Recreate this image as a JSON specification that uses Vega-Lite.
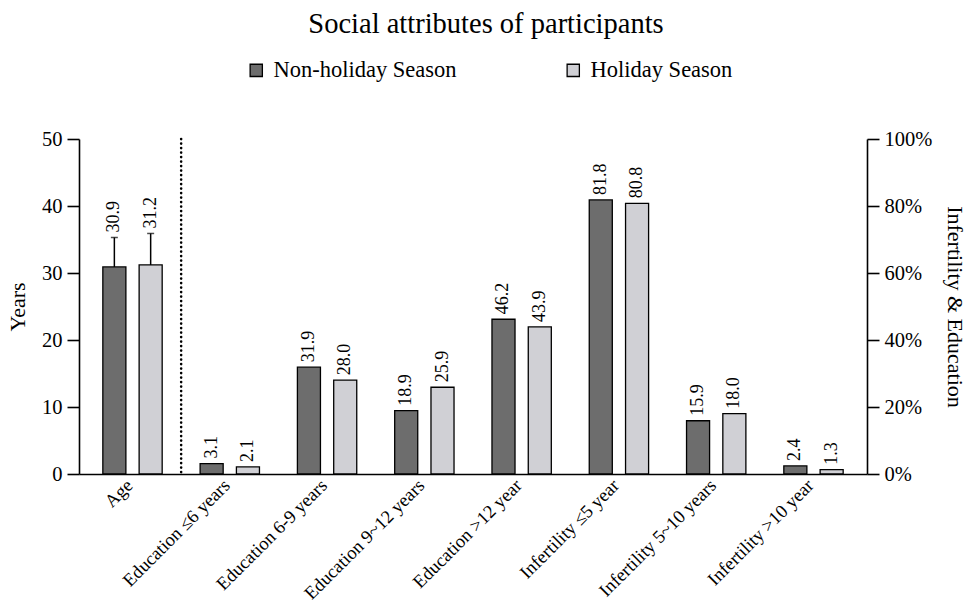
{
  "$schema": "https://vega.github.io/schema/vega-lite/v6.json",
  "width": 788,
  "height": 335,
  "autosize": "none",
  "padding": {"left": 79, "top": 139, "right": 105, "bottom": 131},
  "background": "white",
  "config": {
    "font": "Liberation Serif",
    "view": {"stroke": null},
    "axis": {
      "domainColor": "black", "domainWidth": 1.6, "tickColor": "black", "tickWidth": 1.6,
      "labelColor": "black", "titleColor": "black", "labelFont": "Liberation Serif", "titleFont": "Liberation Serif",
      "titleFontWeight": "normal", "grid": false
    },
    "legend": {"labelFont": "Liberation Serif", "labelColor": "black"}
  },
  "title": {
    "text": "Social attributes of  participants",
    "fontSize": 28.5, "fontWeight": "normal", "font": "Liberation Serif", "color": "black",
    "anchor": "middle", "frame": "group", "offset": 21, "dx": 13
  },
  "data": {
    "values": [
      {"cat": "Age", "season": "Non-holiday Season", "value": 30.9, "upper": 35.3},
      {"cat": "Age", "season": "Holiday Season", "value": 31.2, "upper": 35.9},
      {"cat": "Education ≤6 years", "season": "Non-holiday Season", "value": 3.1},
      {"cat": "Education ≤6 years", "season": "Holiday Season", "value": 2.1},
      {"cat": "Education 6-9 years", "season": "Non-holiday Season", "value": 31.9},
      {"cat": "Education 6-9 years", "season": "Holiday Season", "value": 28.0},
      {"cat": "Education 9~12 years", "season": "Non-holiday Season", "value": 18.9},
      {"cat": "Education 9~12 years", "season": "Holiday Season", "value": 25.9},
      {"cat": "Education >12 year", "season": "Non-holiday Season", "value": 46.2},
      {"cat": "Education >12 year", "season": "Holiday Season", "value": 43.9},
      {"cat": "Infertility ≤5 year", "season": "Non-holiday Season", "value": 81.8},
      {"cat": "Infertility ≤5 year", "season": "Holiday Season", "value": 80.8},
      {"cat": "Infertility 5~10 years", "season": "Non-holiday Season", "value": 15.9},
      {"cat": "Infertility 5~10 years", "season": "Holiday Season", "value": 18.0},
      {"cat": "Infertility >10 year", "season": "Non-holiday Season", "value": 2.4},
      {"cat": "Infertility >10 year", "season": "Holiday Season", "value": 1.3}
    ]
  },
  "layer": [
    {
      "transform": [{"filter": "datum.cat === 'Age'"}],
      "encoding": {
        "x": {
          "field": "cat", "type": "nominal", "title": null,
          "sort": ["Age", "Education ≤6 years", "Education 6-9 years", "Education 9~12 years", "Education >12 year", "Infertility ≤5 year", "Infertility 5~10 years", "Infertility >10 year"],
          "scale": {"paddingInner": 0.39, "paddingOuter": 0.245},
          "axis": {"labelAngle": -45, "labelFontSize": 18.5, "ticks": false, "labelPadding": 8, "labelLimit": 300, "labelBaseline": "middle", "labelAlign": "right", "labelOffset": -3}
        },
        "xOffset": {
          "field": "season", "type": "nominal",
          "sort": ["Non-holiday Season", "Holiday Season"],
          "scale": {"paddingInner": 0.365, "paddingOuter": 0}
        },
        "y": {
          "field": "value", "type": "quantitative", "title": "Years",
          "scale": {"domain": [0, 50], "nice": false},
          "axis": {"orient": "left", "values": [0, 10, 20, 30, 40, 50], "tickSize": 12, "labelFontSize": 20.5, "labelPadding": 5, "titleFontSize": 22, "titlePadding": 12}
        }
      },
      "layer": [
        {
          "mark": {"type": "bar", "stroke": "black", "strokeWidth": 1.3},
          "encoding": {
            "color": {
              "field": "season", "type": "nominal",
              "sort": ["Non-holiday Season", "Holiday Season"],
              "scale": {"domain": ["Non-holiday Season", "Holiday Season"], "range": ["#6d6d6d", "#d0d0d5"]},
              "legend": {
                "title": null, "orient": "none", "direction": "horizontal", "legendX": 166, "legendY": -80,
                "symbolType": "square", "symbolSize": 150, "symbolStrokeColor": "black", "symbolStrokeWidth": 1.3,
                "labelFontSize": 22.5, "labelOffset": 6, "columnPadding": 105, "symbolOpacity": 1, "labelLimit": 400
              }
            }
          }
        },
        {
          "mark": {"type": "rule", "color": "black", "strokeWidth": 1.5},
          "encoding": {"y2": {"field": "upper"}}
        },
        {
          "mark": {"type": "tick", "color": "black", "size": 7, "thickness": 1.5},
          "encoding": {"y": {"field": "upper", "type": "quantitative", "title": "Years"}}
        },
        {
          "mark": {"type": "text", "angle": 270, "align": "left", "baseline": "middle", "dx": 5, "fontSize": 18, "color": "black"},
          "encoding": {
            "y": {"field": "upper", "type": "quantitative", "title": "Years"},
            "text": {"field": "value", "type": "quantitative", "format": ".1f"}
          }
        }
      ]
    },
    {
      "transform": [{"filter": "datum.cat !== 'Age'"}],
      "encoding": {
        "x": {
          "field": "cat", "type": "nominal", "title": null,
          "sort": ["Age", "Education ≤6 years", "Education 6-9 years", "Education 9~12 years", "Education >12 year", "Infertility ≤5 year", "Infertility 5~10 years", "Infertility >10 year"]
        },
        "xOffset": {
          "field": "season", "type": "nominal",
          "sort": ["Non-holiday Season", "Holiday Season"]
        },
        "y": {
          "field": "value", "type": "quantitative", "title": "Infertility & Education",
          "scale": {"domain": [0, 100], "nice": false},
          "axis": {"orient": "right", "values": [0, 20, 40, 60, 80, 100], "labelExpr": "datum.value + '%'", "tickSize": 12, "labelFontSize": 20.5, "labelPadding": 5, "titleFontSize": 22, "titlePadding": 11}
        }
      },
      "layer": [
        {
          "mark": {"type": "bar", "stroke": "black", "strokeWidth": 1.3},
          "encoding": {
            "color": {"field": "season", "type": "nominal", "sort": ["Non-holiday Season", "Holiday Season"]}
          }
        },
        {
          "mark": {"type": "text", "angle": 270, "align": "left", "baseline": "middle", "dx": 5, "fontSize": 18, "color": "black"},
          "encoding": {
            "text": {"field": "value", "type": "quantitative", "format": ".1f"}
          }
        }
      ]
    },
    {
      "data": {"values": [{"cat": "Age"}]},
      "mark": {"type": "rule", "color": "black", "strokeWidth": 2.6, "strokeDash": [0.1, 4.4], "strokeCap": "round"},
      "encoding": {
        "x": {
          "field": "cat", "type": "nominal", "title": null, "bandPosition": 1.3197,
          "sort": ["Age", "Education ≤6 years", "Education 6-9 years", "Education 9~12 years", "Education >12 year", "Infertility ≤5 year", "Infertility 5~10 years", "Infertility >10 year"]
        }
      }
    }
  ],
  "resolve": {"scale": {"y": "independent"}}
}
